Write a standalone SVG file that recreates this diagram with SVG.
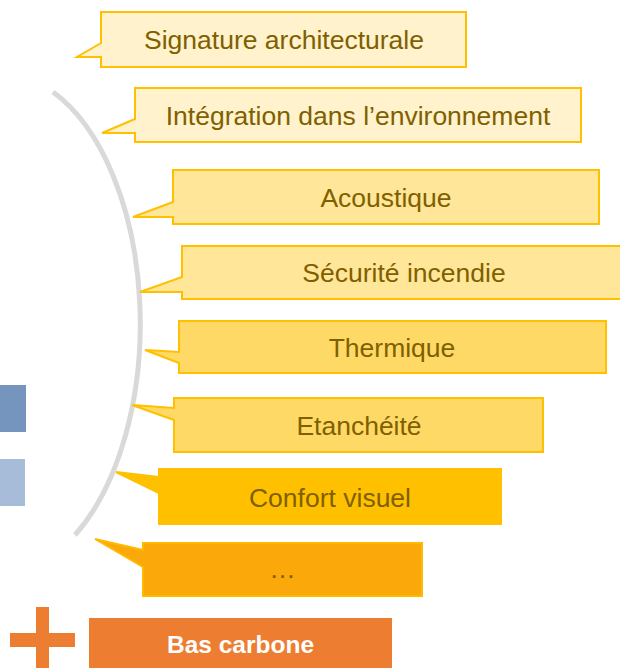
<svg xmlns="http://www.w3.org/2000/svg" width="620" height="668" viewBox="0 0 620 668">
<style>
  .box { stroke: #FFC000; stroke-width: 2; stroke-linejoin: miter; }
  .l1 { fill: #FFF2CC; }
  .l2 { fill: #FFE699; }
  .l3 { fill: #FFD966; }
  .l4 { fill: #FFC000; }
  .l5 { fill: #FAA80A; stroke: #FFBA00; }
  .t { font-family: "Liberation Sans", Arial, sans-serif; font-size: 26.5px; fill: #7F6000; text-anchor: middle; }
  .tb { font-family: "Liberation Sans", Arial, sans-serif; font-size: 24.5px; font-weight: bold; fill: #FFFFFF; text-anchor: middle; }
  .orange { fill: #ED7D31; }
</style>
<rect x="0" y="0" width="620" height="668" fill="#FFFFFF"/>
<g id="side-marks">
  <rect x="-2" y="385" width="28" height="47" fill="#7594BE"/>
  <rect x="-2" y="459" width="27" height="47" fill="#A7BCD8"/>
</g>
<g id="connectors">
  <path d="M53,92 A140,250 0 0 1 75,535" fill="none" stroke="#D9D9D9" stroke-width="5"/>
</g>
<g id="signature">
  <path class="box l1" d="M101,12 H466 V67 H101 V57 L77,57 L101,43 Z"/>
  <text class="t" x="284" y="49">Signature architecturale</text>
</g>
<g id="integration">
  <path class="box l1" d="M135,88 H581 V142 H135 V133 L102,133 L135,119 Z"/>
  <text class="t" x="358" y="125">Intégration dans l’environnement</text>
</g>
<g id="acoustique">
  <path class="box l2" d="M173,170 H599 V224 H173 V217 L133,217 L173,202 Z"/>
  <text class="t" x="386" y="207">Acoustique</text>
</g>
<g id="securite">
  <path class="box l2" d="M182,246 H632 V299 H182 V292 L140,292 L182,277 Z"/>
  <text class="t" x="404" y="282">Sécurité incendie</text>
</g>
<g id="thermique">
  <path class="box l3" d="M179,321 H606 V373 H179 V363 L145,350 L179,352 Z"/>
  <text class="t" x="392" y="357">Thermique</text>
</g>
<g id="etancheite">
  <path class="box l3" d="M174,398 H543 V452 H174 V420 L132,405 L174,408 Z"/>
  <text class="t" x="359" y="435">Etanchéité</text>
</g>
<g id="confort">
  <path class="box l4" d="M159,469 H501 V524 H159 V493 L116,472 L159,477 Z"/>
  <text class="t" x="330" y="507">Confort visuel</text>
</g>
<g id="etc">
  <path class="box l5" d="M143,543 H422 V596 H143 V567 L95,539 L143,550 Z"/>
  <text class="t" x="282.5" y="578">…</text>
</g>
<g id="plus">
  <rect class="orange" x="36" y="607" width="13" height="70"/>
  <rect class="orange" x="10" y="633" width="65" height="14"/>
</g>
<g id="bas-carbone">
  <rect class="orange" x="89" y="618" width="303" height="60"/>
  <text class="tb" x="240.5" y="653">Bas carbone</text>
</g>
</svg>
